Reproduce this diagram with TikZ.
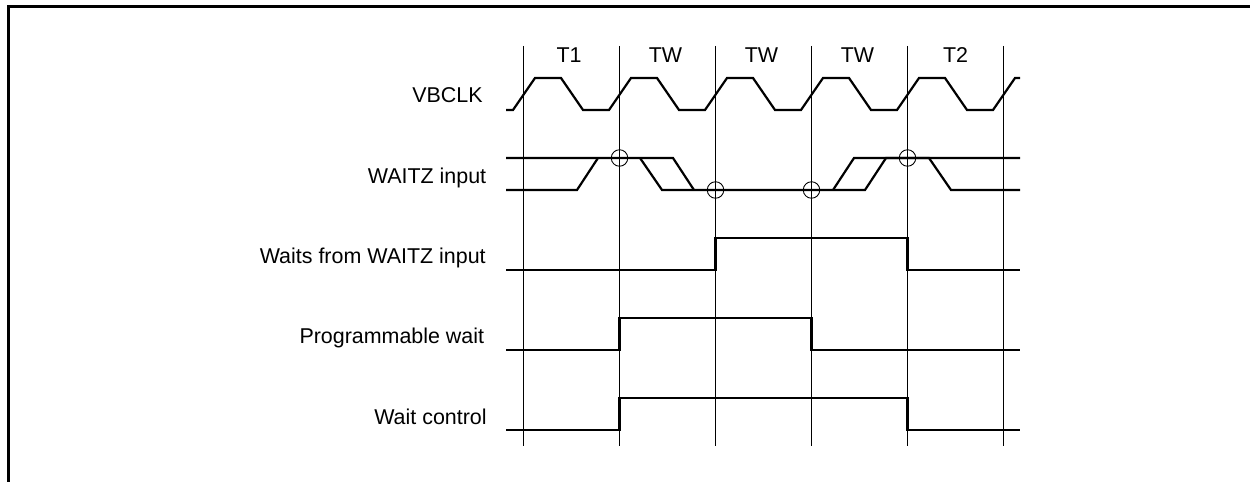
\documentclass[tikz,border=0pt]{standalone}
\usepackage{fontspec}
\setmainfont{Liberation Sans}
\tikzset{
	frameline/.style={line width=1.5pt},
	gridline/.style={line width=0.5pt},
	signal/.style={line width=1.25pt,line join=miter},
	sampled/.style={circle,draw,line width=0.5pt,inner sep=0pt,minimum size=0.33cm},
	label/.style={inner sep=0pt,anchor=base east,font=\fontsize{12.2}{14}\selectfont},
	cycle/.style={inner sep=0pt,anchor=base,font=\fontsize{12.2}{14}\selectfont},
}
\begin{document}
\begin{tikzpicture}[x=0.02cm,y=-0.02cm]
	
		\useasboundingbox (0,0) rectangle (1250,482);
		
		% frame
		\draw[frameline] (8.7,482) -- (8.7,6.3) -- (1250,6.3);
		
		% cycle boundaries
		\draw[gridline] (523.5,46) -- (523.5,446);
		\draw[gridline] (619.5,46) -- (619.5,446);
		\draw[gridline] (715.5,46) -- (715.5,446);
		\draw[gridline] (811.5,46) -- (811.5,446);
		\draw[gridline] (907.5,46) -- (907.5,446);
		\draw[gridline] (1003.5,46) -- (1003.5,446);
		
		\node[cycle] (t1) at (569,62.7) {T1};
		\node[cycle] (tw1) at (665.5,62.7) {TW};
		\node[cycle] (tw2) at (761.5,62.7) {TW};
		\node[cycle] (tw3) at (857.5,62.7) {TW};
		\node[cycle] (t2) at (955.5,62.7) {T2};
		
		\node[label] (vbclk) at (483,102.7) {VBCLK};
		\node[label] (waitz) at (486.5,184) {WAITZ input};
		\node[label] (waits) at (486,264) {Waits from WAITZ input};
		\node[label] (prog) at (484.5,344) {Programmable wait};
		\node[label] (ctrl) at (487,424) {Wait control};
		
		% clock
		\draw[signal] (506,110) -- (513,110) -- (535,78) -- (561,78) -- (583,110)
			-- (609,110) -- (631,78) -- (657,78) -- (679,110)
			-- (705,110) -- (727,78) -- (753,78) -- (775,110)
			-- (801,110) -- (823,78) -- (849,78) -- (871,110)
			-- (897,110) -- (919,78) -- (945,78) -- (967,110)
			-- (993,110) -- (1015,78) -- (1020,78);
		
		% waitz input
		\draw[signal] (506,158) -- (673,158) -- (694,190);
		\draw[signal] (506,190) -- (577,190) -- (598,158);
		\draw[signal] (640,158) -- (662,190) -- (865,190) -- (886,158) -- (929,158)
			-- (951,190) -- (1020,190);
		\draw[signal] (833,190) -- (854,158) -- (1020,158);
		
		\node[sampled] (s1) at (619.5,158) {};
		\node[sampled] (s2) at (715.5,190) {};
		\node[sampled] (s3) at (811.5,190) {};
		\node[sampled] (s4) at (907.5,158) {};
		
		% waits from waitz input
		\draw[signal] (506,270) -- (715.5,270) -- (715.5,238) -- (907.5,238)
			-- (907.5,270) -- (1020,270);
		
		% programmable wait
		\draw[signal] (506,350) -- (619.5,350) -- (619.5,318) -- (811.5,318)
			-- (811.5,350) -- (1020,350);
		
		% wait control
		\draw[signal] (506,430) -- (619.5,430) -- (619.5,398) -- (907.5,398)
			-- (907.5,430) -- (1020,430);
		
	\end{tikzpicture}
\end{document}
